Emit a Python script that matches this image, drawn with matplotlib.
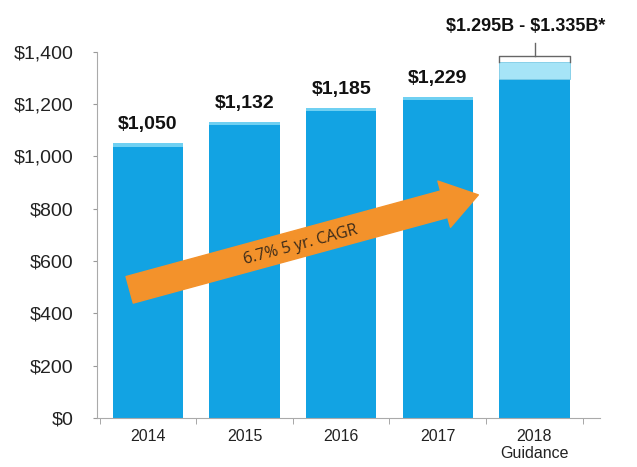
import numpy as np
import matplotlib.pyplot as plt

plt.rcParams['font.family'] = ['Liberation Sans', 'DejaVu Sans']

years = ["2014", "2015", "2016", "2017", "2018\nGuidance"]
revenue = [1050, 1132, 1185, 1229, 1295]
value_labels = ["\\$1,050", "\\$1,132", "\\$1,185", "\\$1,229", None]
guidance_low = 1295
guidance_high = 1335
guidance_label = "\\$1.295B - \\$1.335B*"
cagr_label = "6.7% 5 yr. CAGR"

bar_color = "#12a3e3"
cap_color = "#a6e4f7"
arrow_color = "#f3922b"

fig = plt.figure(figsize=(6.37, 4.67), dpi=100)
ax = fig.add_axes([0.152, 0.105, 0.79, 0.784])

x = np.arange(len(years))
ax.bar(x, revenue, width=0.73, color=bar_color, zorder=2)
# thin light top edge on each bar
ax.bar(x[:-1], [12] * (len(x) - 1), bottom=np.array(revenue[:-1]) - 12,
       width=0.73, color="#6fd0f2", zorder=3)
# guidance range cap
ax.bar(x[-1], guidance_high - guidance_low + 25, bottom=guidance_low,
       width=0.73, color=cap_color, edgecolor="#7ccbe6", linewidth=0.6, zorder=3)

for xi, v, lab in zip(x, revenue, value_labels):
    if lab:
        ax.text(xi, v + 38, lab, ha="center", va="bottom", fontsize=14,
                fontweight="bold", color="#111111")

# bracket over the guidance bar
bx0, bx1 = x[-1] - 0.37, x[-1] + 0.37
by = 1385
ax.plot([bx0, bx0, bx1, bx1], [by - 25, by, by, by - 25], color="#666666",
        lw=1, clip_on=False, zorder=4)
ax.plot([x[-1] + 0.01, x[-1] + 0.01], [by, by + 50], color="#666666", lw=1,
        clip_on=False, zorder=4)
ax.text(x[-1] - 0.09, by + 78, guidance_label, ha="center", va="bottom",
        fontsize=13, fontweight="bold", color="#111111", clip_on=False)

# CAGR arrow
ax.annotate("", xy=(3.42, 853), xytext=(-0.19, 490),
            arrowprops=dict(arrowstyle="simple,head_length=0.85,head_width=1.15,tail_width=0.66",
                            mutation_scale=30, color=arrow_color, shrinkA=0, shrinkB=0),
            zorder=5)
ax.text(1.58, 660, cagr_label, rotation=15, ha="center", va="center",
        fontsize=11.5, color="#3a2a1a", family=["Open Sans", "DejaVu Sans"], zorder=6)

ax.set_ylim(0, 1400)
ax.set_xlim(-0.53, 4.68)
ax.set_yticks(np.arange(0, 1401, 200))
ax.set_yticklabels([f"${v:,}" for v in range(0, 1401, 200)], fontsize=14,
                   color="#222222")
ax.set_xticks(x)
ax.set_xticklabels(years, fontsize=11.5, color="#222222")
ax.tick_params(axis="x", length=0, pad=8)
ax.tick_params(axis="y", length=3, color="#999999", pad=14)
ax.set_xticks(np.arange(-0.5, 4.6, 1), minor=True)
ax.tick_params(axis="x", which="minor", length=4, color="#999999")

for s in ["top", "right"]:
    ax.spines[s].set_visible(False)
for s in ["left", "bottom"]:
    ax.spines[s].set_color("#aaaaaa")

fig.savefig("out.png", dpi=100)
